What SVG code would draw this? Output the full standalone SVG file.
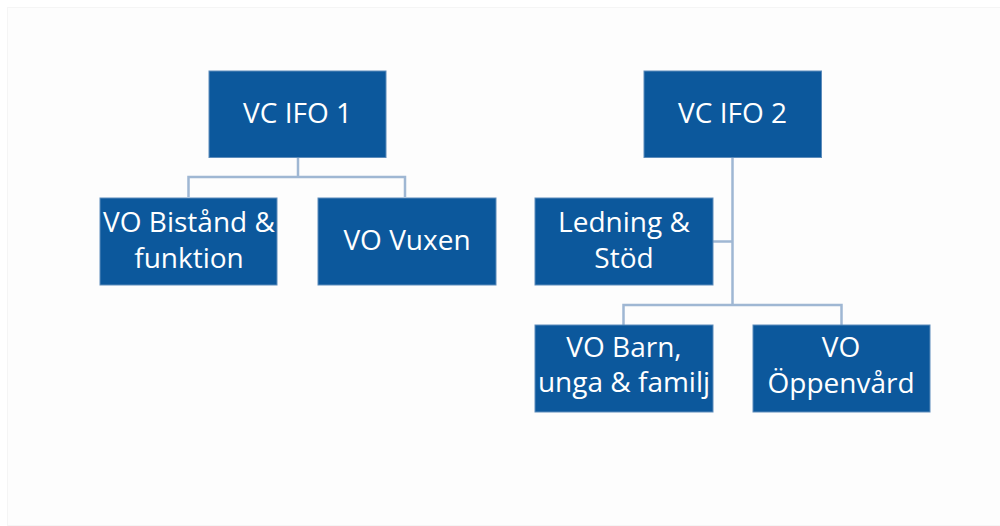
<svg xmlns="http://www.w3.org/2000/svg" width="1000" height="526" viewBox="0 0 1000 526">
<style>
.box{fill:#0c589c;stroke:#5d8cbb;stroke-width:1}
.t{fill:#ffffff;font-family:"Open Sans","Liberation Sans",sans-serif;font-size:28px;text-anchor:middle}
.c{fill:none;stroke:#9fb7d3;stroke-width:2.5}
</style>
<rect x="0" y="0" width="1000" height="526" fill="#ffffff"/>
<rect x="7.5" y="7.5" width="1000" height="518" fill="#fdfdfd" stroke="#f5f5f5" stroke-width="1"/>
<g id="connectors">
<path class="c" d="M298 158V177M188.5 197V177H405V197"/>
<path class="c" d="M732.5 158V305M713 241.5H732.5M623.5 325V305H841.5V325"/>
</g>
<g id="vcifo1"><rect class="box" x="209" y="71" width="177" height="86.5"/><text class="t" x="297.5" y="123">VC IFO 1</text></g>
<g id="bistand"><rect class="box" x="100" y="198" width="177" height="87"/><text class="t" x="189" y="232">VO Bistånd &amp;</text><text class="t" x="189" y="268">funktion</text></g>
<g id="vuxen"><rect class="box" x="318" y="198" width="178" height="87"/><text class="t" x="407" y="250">VO Vuxen</text></g>
<g id="vcifo2"><rect class="box" x="644" y="71" width="177.5" height="86.5"/><text class="t" x="732.5" y="123">VC IFO 2</text></g>
<g id="ledning"><rect class="box" x="535" y="198" width="178" height="87"/><text class="t" x="624" y="232">Ledning &amp;</text><text class="t" x="624" y="268">Stöd</text></g>
<g id="barn"><rect class="box" x="535" y="325" width="178" height="87"/><text class="t" x="624" y="357">VO Barn,</text><text class="t" x="624" y="392">unga &amp; familj</text></g>
<g id="oppenvard"><rect class="box" x="753" y="325" width="177" height="87"/><text class="t" x="841" y="357">VO</text><text class="t" x="841" y="393">Öppenvård</text></g>
</svg>
